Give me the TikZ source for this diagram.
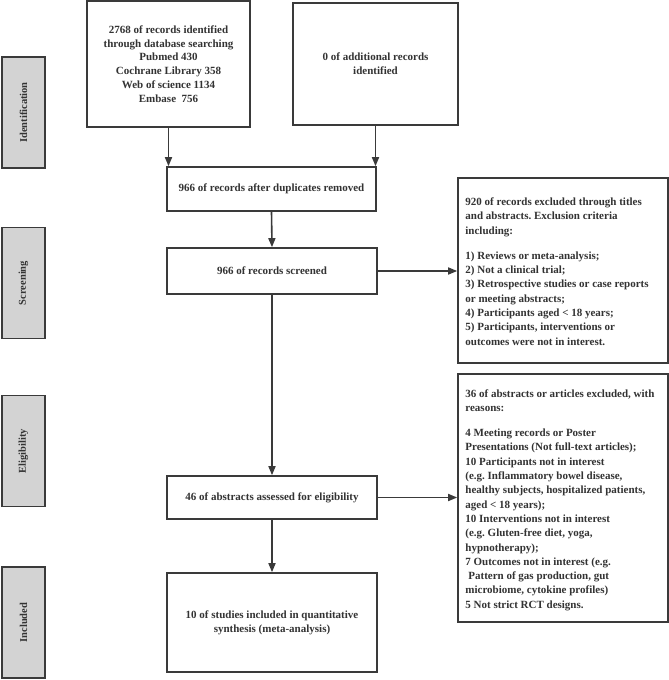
\documentclass[tikz,border=0pt]{standalone}
\usepackage{fontspec}
\setmainfont{Liberation Serif}
\usetikzlibrary{arrows.meta}
\definecolor{lc}{HTML}{3A3A3A}
\definecolor{tc}{HTML}{333333}
\definecolor{sf}{HTML}{D3D3D3}
\frenchspacing
\begin{document}
\begin{tikzpicture}[x=1pt,y=-1pt,
  box/.style={draw=lc,line width=1.6pt,fill=white,inner sep=0pt,
    font=\fontsize{11}{13.8}\selectfont\bfseries,text=tc,align=center},
  sidetext/.style={inner sep=0pt,anchor=west,align=left,
    font=\fontsize{11}{14.3}\selectfont\bfseries,text=tc},
  stagebox/.style={draw=lc,line width=1.6pt,fill=sf,inner sep=0pt,rotate=90,
    minimum width=111pt,minimum height=43pt,
    font=\fontsize{10.5}{12}\selectfont\bfseries,text=tc},
  arr/.style={draw=lc,line width=1.6pt,-{Triangle[length=9pt,width=7pt]}}]
\useasboundingbox (0,0) rectangle (669,680);

% stage labels
\node[stagebox] (s1) at (23.5,112.5) {Identification};
\node[stagebox] (s2) at (23.5,283) {Screening};
\node[stagebox] (s3) at (23.5,451) {Eligibility};
\node[stagebox] (s4) at (23.5,622.5) {Included};

% main boxes
\node[box,minimum width=163pt,minimum height=126pt] (A) at (168.5,64)
  {2768 of records identified\\through database searching\\Pubmed 430\\Cochrane Library 358\\Web of science 1134\\Embase\ \ 756};
\node[box,minimum width=165pt,minimum height=122pt] (B) at (375.5,64)
  {0 of additional records\\identified};
\node[box,minimum width=209pt,minimum height=44pt] (C) at (271.5,189)
  {966 of records after duplicates removed};
\node[box,minimum width=210pt,minimum height=46pt] (D) at (272,271)
  {966 of records screened};
\node[box,minimum width=210pt,minimum height=43pt] (G) at (272,497.5)
  {46 of abstracts assessed for eligibility};
\node[box,minimum width=210pt,minimum height=99pt] (H) at (272,622.5)
  {10 of studies included in quantitative\\synthesis (meta-analysis)};

% exclusion boxes
\node[box,minimum width=210pt,minimum height=185pt] (E) at (563,270.5) {};
\node[sidetext] (Et) at ([xshift=8pt,yshift=-1pt]E.west)
  {920 of records excluded through titles\\and abstracts. Exclusion criteria\\including:\\[11pt]1) Reviews or meta-analysis;\\2) Not a clinical trial;\\3) Retrospective studies or case reports\\or meeting abstracts;\\4) Participants aged < 18 years;\\5) Participants, interventions or\\outcomes were not in interest.};
\node[box,minimum width=210pt,minimum height=248pt] (F) at (563,498) {};
\node[sidetext] (Ft) at ([xshift=8pt,yshift=-2pt]F.west)
  {36 of abstracts or articles excluded, with\\reasons:\\[11pt]4 Meeting records or Poster\\Presentations (Not full-text articles);\\10 Participants not in interest\\(e.g. Inflammatory bowel disease,\\healthy subjects, hospitalized patients,\\aged < 18 years);\\10 Interventions not in interest\\(e.g. Gluten-free diet, yoga,\\hypnotherapy);\\7 Outcomes not in interest (e.g.\\\hspace*{3pt}Pattern of gas production, gut\\microbiome, cytokine profiles)\\5 Not strict RCT designs.};

% connectors
\draw[arr] (A.south) -- (A.south |- C.north);
\draw[arr] (B.south) -- (B.south |- C.north);
\draw[arr] (C.south) -- (D.north);
\draw[arr] (D.east) -- (D.east -| E.west);
\draw[arr] (D.south) -- (G.north);
\draw[arr] (G.east) -- (G.east -| F.west);
\draw[arr] (G.south) -- (H.north);
\end{tikzpicture}
\end{document}
